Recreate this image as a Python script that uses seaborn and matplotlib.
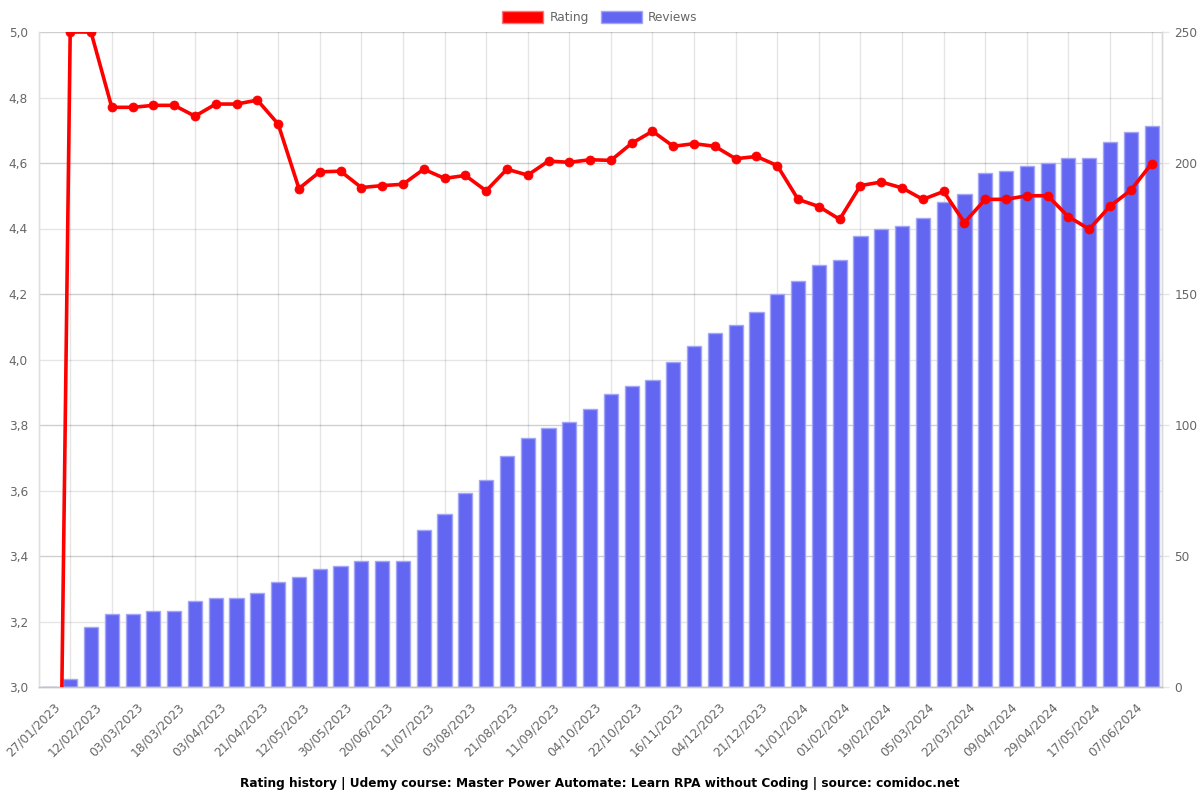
import matplotlib
matplotlib.use("Agg")
import matplotlib.pyplot as plt
import matplotlib.transforms as mtransforms
from matplotlib.patches import Patch
from matplotlib.ticker import FuncFormatter, MultipleLocator
import numpy as np
import pandas as pd
import seaborn as sns

# ---- data (index 0 is the empty starting point before the first record) ----
tick_labels = ["27/01/2023", "12/02/2023", "03/03/2023", "18/03/2023", "03/04/2023",
               "21/04/2023", "12/05/2023", "30/05/2023", "20/06/2023", "11/07/2023",
               "03/08/2023", "21/08/2023", "11/09/2023", "04/10/2023", "22/10/2023",
               "16/11/2023", "04/12/2023", "21/12/2023", "11/01/2024", "01/02/2024",
               "19/02/2024", "05/03/2024", "22/03/2024", "09/04/2024", "29/04/2024",
               "17/05/2024", "07/06/2024"]

reviews = [0, 3, 23, 28, 28, 29, 29, 33, 34, 34, 36, 40, 42, 45, 46, 48, 48, 48, 60,
           66, 74, 79, 88, 95, 99, 101, 106, 112, 115, 117, 124, 130, 135, 138, 143,
           150, 155, 161, 163, 172, 175, 176, 179, 185, 188, 196, 197, 199, 200, 202,
           202, 208, 212, 214]

rating = [0.0, 5.0, 5.0, 4.77, 4.77, 4.776, 4.776, 4.743, 4.78, 4.78, 4.792, 4.719,
          4.522, 4.573, 4.575, 4.525, 4.531, 4.535, 4.581, 4.553, 4.562, 4.515, 4.581,
          4.563, 4.606, 4.602, 4.61, 4.608, 4.66, 4.697, 4.651, 4.659, 4.651, 4.613,
          4.62, 4.592, 4.489, 4.467, 4.428, 4.531, 4.542, 4.524, 4.489, 4.513, 4.418,
          4.489, 4.489, 4.5, 4.5, 4.436, 4.398, 4.468, 4.517, 4.598]

title = "Rating history | Udemy course: Master Power Automate: Learn RPA without Coding | source: comidoc.net"

idx = list(range(len(reviews)))
df = pd.DataFrame({"idx": idx, "reviews": reviews, "rating": rating})

BAR = "#6366f1"
BAR_EDGE = "#a3a5f7"
RED = "#ff0000"
TXT = "#666666"

sns.set_theme(style="white")
plt.rcParams["font.family"] = ["DejaVu Sans"]

fig = plt.figure(figsize=(12, 8), dpi=100)
ax = fig.add_axes([39 / 1200, 1 - 687 / 800, (1162 - 39) / 1200, (687 - 32) / 800])

# bars (reviews) on primary axes
sns.barplot(data=df, x="idx", y="reviews", ax=ax, color=BAR, width=0.68,
            edgecolor=BAR_EDGE, linewidth=1, saturation=1, zorder=2)
for p in ax.patches:
    p.set_facecolor(BAR)
ax.set_ylim(0, 250)
ax.yaxis.set_major_locator(MultipleLocator(50))
ax.yaxis.set_minor_locator(MultipleLocator(25))
ax.set_xlim(-0.5, len(idx) - 0.5)

# line (rating) on twin axes
ax2 = ax.twinx()
sns.lineplot(data=df, x="idx", y="rating", ax=ax2, color=RED, linewidth=2.6,
             marker="o", markersize=6.5, markeredgecolor=RED, markeredgewidth=0.5,
             zorder=5)
ax2.set_ylim(3.0, 5.0)
ax2.yaxis.set_major_locator(MultipleLocator(0.2))
ax2.yaxis.set_major_formatter(FuncFormatter(lambda v, p: f"{v:.1f}".replace(".", ",")))
ax2.set_xlim(-0.5, len(idx) - 0.5)

# swap sides: rating on the left, reviews on the right
ax2.yaxis.tick_left()
ax.yaxis.tick_right()
ax.yaxis.set_ticks_position("right")
ax2.yaxis.set_ticks_position("left")

for a in (ax, ax2):
    a.set_xlabel("")
    a.set_ylabel("")

# grids (drawn below the bars, on the primary axes only)
ax.set_axisbelow(True)
ax.grid(True, axis="x", which="major", color="black", alpha=0.1, linewidth=1)
ax.grid(True, axis="y", which="major", color="black", alpha=0.19, linewidth=1)
ax.grid(True, axis="y", which="minor", color="black", alpha=0.1, linewidth=1)
ax2.grid(False)

ax.tick_params(axis="x", length=7, width=1, color="#e6e6e6", pad=6)
ax.tick_params(axis="y", which="major", length=5, width=1, color="#e6e6e6",
               labelsize=8.7, labelcolor=TXT, pad=4)
ax.tick_params(axis="y", which="minor", length=0)
ax2.tick_params(axis="y", length=0, labelsize=8.7, labelcolor=TXT, pad=8)
ax2.tick_params(axis="x", length=0, labelbottom=False)

# x ticks every other point
tick_pos = idx[1::2]
ax.set_xticks(tick_pos)
ax.set_xticklabels(tick_labels, rotation=45, ha="right", va="center",
                   rotation_mode="anchor", fontsize=8.7, color=TXT)

for a in (ax, ax2):
    a.spines["top"].set_visible(False)
    a.spines["left"].set_color("#e0e0e0")
    a.spines["right"].set_color("#d9d9d9")
    a.spines["bottom"].set_color("#c4c4c4")
    for s in a.spines.values():
        s.set_linewidth(1)

ax2.patch.set_visible(False)

# legend
handles = [Patch(facecolor=RED, edgecolor="#ff7777", linewidth=1),
           Patch(facecolor=BAR, edgecolor=BAR_EDGE, linewidth=1)]
fig.legend(handles, ["Rating", "Reviews"], loc="upper center",
           bbox_to_anchor=(0.5, 1.0), ncol=2, frameon=False, fontsize=8.7,
           labelcolor=TXT, handlelength=3.4, handleheight=1.1, handletextpad=0.5,
           columnspacing=1.0)

fig.text(0.5, 1 - 783 / 800, title, ha="center", va="center", fontsize=8.7,
         fontweight="bold", color="#000000")

# shift the rotated date labels left, as in the reference (applied last)
fig.canvas.draw()
offset = mtransforms.ScaledTranslation(-12 / 100, 0, fig.dpi_scale_trans)
for lab in ax.get_xticklabels():
    lab.set_transform(lab.get_transform() + offset)

fig.savefig("out.png", dpi=100)
